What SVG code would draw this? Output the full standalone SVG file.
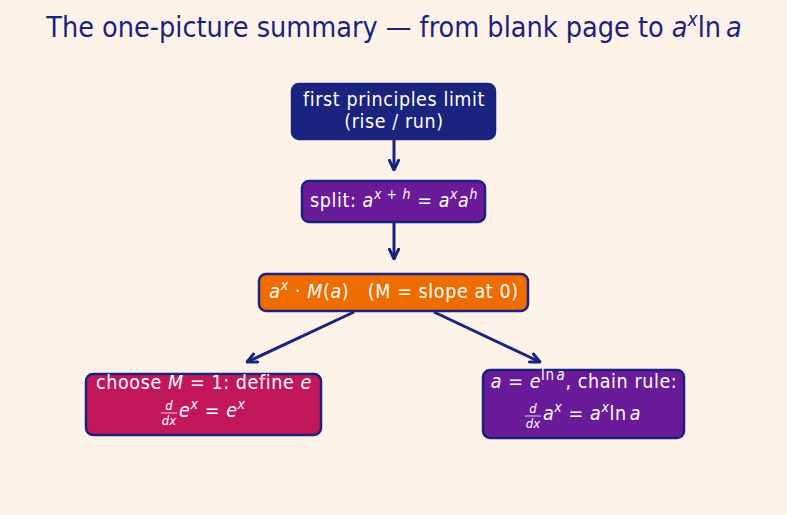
<svg xmlns="http://www.w3.org/2000/svg" width="787" height="515" viewBox="0 0 787 515">
<style>
text{font-family:"DejaVu Sans Condensed","DejaVu Sans","Liberation Sans",sans-serif}
.t{fill:#fff;font-size:19.5px;text-anchor:middle;letter-spacing:0.6px}
.s{fill:#fff;font-size:19.5px;letter-spacing:0.6px}
.f{fill:#fff;font-size:13px;text-anchor:middle;font-style:italic}
.i{font-style:italic}
.box{stroke:#1a237e;stroke-width:2.5}
.c{stroke:#1a237e;stroke-width:3;fill:none;marker-end:url(#ah)}
</style>
<defs>
<marker id="ah" viewBox="0 0 10 10" refX="9" refY="5" markerWidth="4" markerHeight="4" orient="auto" markerUnits="strokeWidth">
<path d="M1,1.2 L9,5 L1,8.8" fill="none" stroke="#1a237e" stroke-width="2.5" stroke-linecap="round" stroke-linejoin="round"/>
</marker>
</defs>
<rect width="787" height="515" fill="#fdf2e8"/>
<text x="394" y="37" style="font-size:28.5px;fill:#1a237e;text-anchor:middle">The one-picture summary — from blank page to <tspan font-style="italic">a</tspan><tspan font-style="italic" font-size="19" dy="-11">x</tspan><tspan dy="11">ln</tspan><tspan font-style="italic" dx="5">a</tspan></text>
<g id="connectors">
<line class="c" x1="394" y1="140" x2="394" y2="170"/>
<line class="c" x1="394" y1="223" x2="394" y2="259"/>
<line class="c" x1="354" y1="312" x2="247" y2="362"/>
<line class="c" x1="434" y1="312" x2="540" y2="362"/>
</g>
<g id="n1">
<rect class="box" x="292" y="84" width="203" height="55" rx="7" fill="#1a237e"/>
<text class="t" x="394" y="106">first principles limit</text>
<text class="t" x="394" y="128">(rise / run)</text>
</g>
<g id="n2">
<rect class="box" x="302" y="181" width="183" height="41" rx="7" fill="#6a1b9a"/>
<text class="t" x="394" y="207">split: <tspan class="i">a</tspan><tspan class="i" font-size="14" dy="-8">x</tspan><tspan font-size="14"> + </tspan><tspan class="i" font-size="14">h</tspan><tspan dy="8"> = </tspan><tspan class="i">a</tspan><tspan class="i" font-size="14" dy="-8">x</tspan><tspan class="i" dy="8">a</tspan><tspan class="i" font-size="14" dy="-8">h</tspan></text>
</g>
<g id="n3">
<rect class="box" x="259" y="274" width="269" height="37" rx="7" fill="#ef6c00"/>
<text class="t" x="394" y="298" style="white-space:pre"><tspan class="i">a</tspan><tspan class="i" font-size="14" dy="-8">x</tspan><tspan dy="8"> · </tspan><tspan class="i">M</tspan>(<tspan class="i">a</tspan>)   (M = slope at 0)</text>
</g>
<g id="n4">
<rect class="box" x="86" y="374" width="235" height="61" rx="7" fill="#c2185b"/>
<text class="t" x="204" y="389">choose <tspan class="i">M</tspan> = 1: define <tspan class="i">e</tspan></text>
<text class="f" x="169" y="410">d</text>
<line x1="161" y1="413" x2="177" y2="413" stroke="#fff" stroke-width="0.8"/>
<text class="f" x="169" y="425">dx</text>
<text class="s" x="179" y="417"><tspan class="i">e</tspan><tspan class="i" font-size="14" dy="-8">x</tspan><tspan dy="8"> = </tspan><tspan class="i">e</tspan><tspan class="i" font-size="14" dy="-8">x</tspan></text>
</g>
<g id="n5">
<rect class="box" x="483" y="370" width="201" height="68" rx="7" fill="#6a1b9a"/>
<text class="t" x="584" y="388"><tspan class="i">a</tspan> = <tspan class="i">e</tspan><tspan font-size="15" dy="-8">ln</tspan><tspan class="i" font-size="15" dx="2">a</tspan><tspan dy="8">, chain rule:</tspan></text>
<text class="f" x="533" y="413">d</text>
<line x1="525" y1="416" x2="541" y2="416" stroke="#fff" stroke-width="0.8"/>
<text class="f" x="533" y="428">dx</text>
<text class="s" x="543" y="420"><tspan class="i">a</tspan><tspan class="i" font-size="14" dy="-8">x</tspan><tspan dy="8"> = </tspan><tspan class="i">a</tspan><tspan class="i" font-size="14" dy="-8">x</tspan><tspan dy="8">ln</tspan><tspan class="i" dx="3">a</tspan></text>
</g>
</svg>
